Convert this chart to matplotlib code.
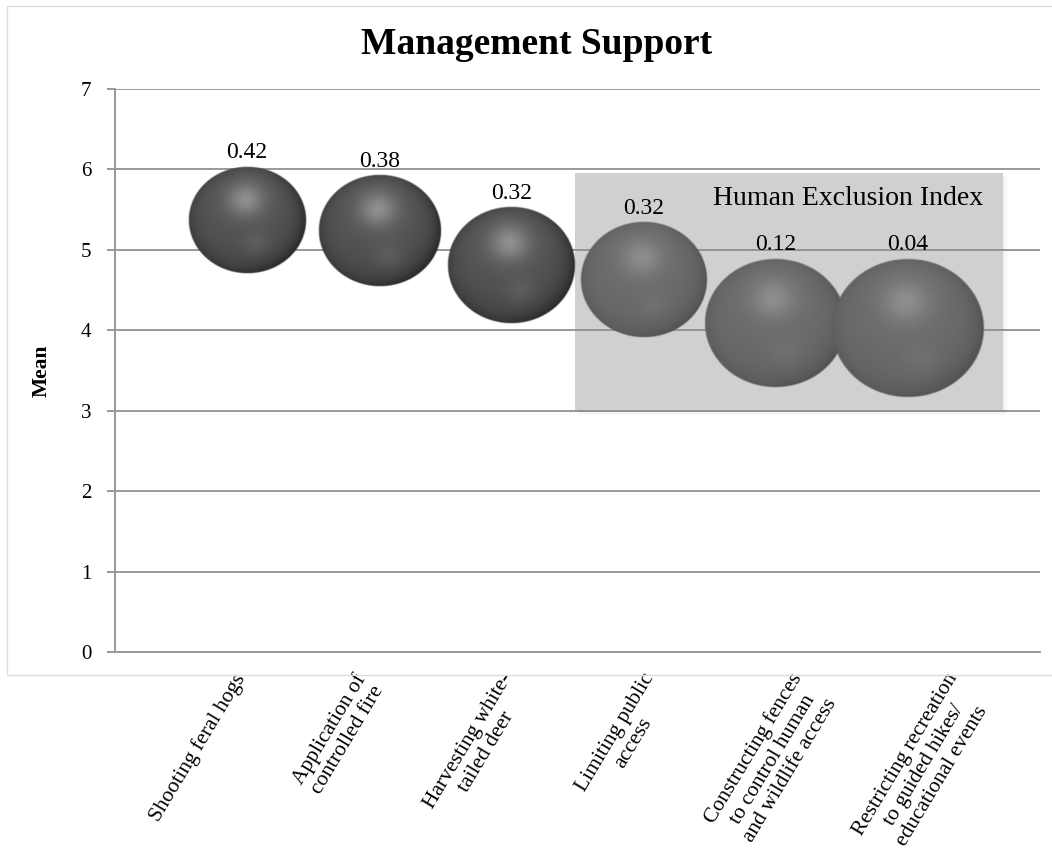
import numpy as np
import matplotlib.pyplot as plt
from matplotlib.patches import Rectangle
from matplotlib.transforms import ScaledTranslation

plt.rcParams["font.family"] = ["Liberation Serif", "DejaVu Serif"]

# --- data ---
categories = [
    "Shooting feral hogs",
    "Application of\ncontrolled fire",
    "Harvesting white-\ntailed deer",
    "Limiting public\naccess",
    "Constructing fences\nto control human\nand wildlife access",
    "Restricting recreation\nto guided hikes/\neducational events",
]
means = [5.37, 5.24, 4.81, 4.63, 4.09, 4.03]
bubble_size = [1.60, 1.73, 1.88, 1.85, 2.31, 2.67]
index_labels = ["0.42", "0.38", "0.32", "0.32", "0.12", "0.04"]
exclusion_group = [3, 4, 5]  # items inside the "Human Exclusion Index" box

# --- layout ---
W, H = 1052, 859
AX_LEFT, AX_RIGHT, AX_TOP, AX_BOTTOM = 115, 1040, 89, 652  # pixels
RADIUS_SCALE = 44.7  # px per sqrt(bubble size)
LABEL_NUDGE = [-14, -26, -11, -2, 14, 38]  # px, Excel-style rotated label placement
GRID = "#999999"


def sphere_image(n=240):
    u = np.linspace(-1, 1, n)
    X, Y = np.meshgrid(u, -u)
    r = np.sqrt(X ** 2 + Y ** 2)
    z = np.sqrt(np.clip(1 - r ** 2, 0, 1))
    light = np.array([-0.05, 0.5, 0.86])
    light = light / np.linalg.norm(light)
    lambert = (X * light[0] + Y * light[1] + z * light[2] + 1) / 2
    highlight = np.exp(-((X + 0.03) ** 2 + (Y - 0.38) ** 2) / 0.09)
    bounce = np.exp(-((X - 0.15) ** 2 + (Y + 0.45) ** 2) / 0.05)
    g = 0.19 + 0.16 * lambert + 0.21 * highlight + 0.05 * bounce
    g -= 0.05 * r ** 8
    g -= 0.09 * np.clip(0.8 * X - 0.2 * Y, 0, 1) * r ** 4
    g = np.clip(g, 0, 1)
    alpha = np.clip((1 - r) * n / 5, 0, 1)
    return np.dstack([g, g, g, alpha])


fig = plt.figure(figsize=(W / 100, H / 100), dpi=100)
ax = fig.add_axes([
    AX_LEFT / W,
    1 - AX_BOTTOM / H,
    (AX_RIGHT - AX_LEFT) / W,
    (AX_BOTTOM - AX_TOP) / H,
])

# outer chart border (Excel chart area)
fig.patches.append(Rectangle((7 / W, 1 - 675 / H), 1.0, (675 - 6) / H,
                             transform=fig.transFigure, fill=False,
                             edgecolor="#dddddd", linewidth=1.0, zorder=0))

xpos = np.arange(1, len(categories) + 1)
ax.set_xlim(0, 7)
ax.set_ylim(0, 7)
ax.set_yticks(range(0, 8))
ax.grid(axis="y", color=GRID, linewidth=1.4)
ax.set_axisbelow(True)
for side in ["top", "right"]:
    ax.spines[side].set_visible(False)
for side in ["left", "bottom"]:
    ax.spines[side].set_color(GRID)
    ax.spines[side].set_linewidth(1.4)
ax.tick_params(axis="y", length=6, width=1.4, color=GRID, pad=11, labelsize=15)
ax.tick_params(axis="x", length=0, labelbottom=False)
ax.set_ylabel("Mean", fontsize=15.5, fontweight="bold")
ax.yaxis.set_label_coords(-0.068, 0.5)

# data units per pixel
px_x = 7 / (AX_RIGHT - AX_LEFT)
px_y = 7 / (AX_BOTTOM - AX_TOP)

sphere = sphere_image()
for xi, yi, s, lab in zip(xpos, means, bubble_size, index_labels):
    r = RADIUS_SCALE * np.sqrt(s)
    rx, ry = 1.05 * r * px_x, 0.955 * r * px_y
    ax.imshow(sphere, extent=(xi - rx, xi + rx, yi - ry, yi + ry),
              aspect="auto", interpolation="bilinear", zorder=3)
    ax.annotate(lab, (xi, yi + ry), xytext=(0, 2), textcoords="offset points",
                ha="center", va="bottom", fontsize=17, zorder=6)

# Human Exclusion Index box (semi-transparent overlay with a soft shadow)
gx = [xpos[i] for i in exclusion_group]
box_left, box_right = gx[0] - 0.52, gx[-1] + 0.72
box_bottom, box_top = 3.0, 5.96
for k in range(1, 6):
    ax.add_patch(Rectangle((box_right, box_bottom - k * px_y), k * px_x,
                           box_top - box_bottom - 3 * px_y + k * px_y,
                           facecolor="black", alpha=0.012, edgecolor="none", zorder=4))
    ax.add_patch(Rectangle((box_left + 3 * px_x, box_bottom - k * px_y),
                           box_right - box_left - 3 * px_x, k * px_y,
                           facecolor="black", alpha=0.012, edgecolor="none", zorder=4))
ax.add_patch(Rectangle((box_left, box_bottom), box_right - box_left, box_top - box_bottom,
                       facecolor="#8d8d8d", alpha=0.41, edgecolor="none", zorder=4))
ax.text(box_right - 0.15, box_top - 0.17, "Human Exclusion Index",
        ha="right", va="top", fontsize=20, zorder=6)

ax.set_xlim(0, 7)
ax.set_ylim(0, 7)

# rotated category labels
for xi, lab, dx in zip(xpos, categories, LABEL_NUDGE):
    tr = ax.get_xaxis_transform() + ScaledTranslation(dx / 100, -18 / 100, fig.dpi_scale_trans)
    ax.text(xi, 0, lab, transform=tr, rotation=59, rotation_mode="anchor",
            ha="right", va="top", multialignment="center", fontsize=15.5,
            linespacing=1.15, clip_on=False)

fig.text(537 / W, 1 - 45 / H, "Management Support", ha="center", va="center",
         fontsize=27, fontweight="bold")

fig.savefig("out.png", dpi=100)
